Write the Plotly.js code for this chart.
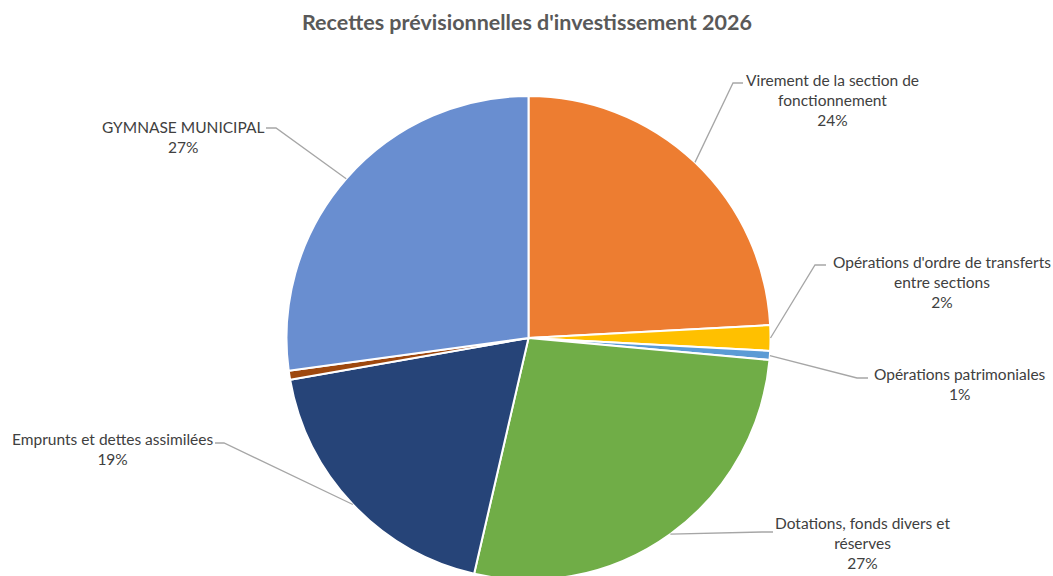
<!DOCTYPE html>
<html>
<head>
<meta charset="utf-8">
<script src="https://cdn.plot.ly/plotly-3.0.1.min.js"></script>
<style>
html,body{margin:0;padding:0;overflow:hidden;background:#fff;}
#chart{width:1053px;height:620px;}
</style>
</head>
<body>
<div id="chart"></div>
<script>
// ---- Data ----
const categories = [
  "Virement de la section de fonctionnement",
  "Opérations d'ordre de transferts entre sections",
  "Opérations patrimoniales",
  "Dotations, fonds divers et réserves",
  "Emprunts et dettes assimilées",
  "Autres",
  "GYMNASE MUNICIPAL"
];
const shownLabels = [
  "Virement de la section de<br>fonctionnement",
  "Opérations d'ordre de transferts<br>entre sections",
  "Opérations patrimoniales",
  "Dotations, fonds divers et<br>réserves",
  "Emprunts et dettes assimilées",
  "",
  "GYMNASE MUNICIPAL"
];
const values = [24.1, 1.7, 0.6, 27.1, 18.6, 0.6, 27.1];
const colors = ["#ED7D31", "#FFC000", "#5B9BD5", "#70AD47", "#264478", "#9E480E", "#698ED0"];

// ---- Layout geometry ----
const W = 1053, H = 620;
const M = {l: 4, r: 0, t: 96, b: 40};
const plotW = W - M.l - M.r, plotH = H - M.t - M.b;
const cx = M.l + plotW / 2, cy = M.t + plotH / 2, R = Math.min(plotW, plotH) / 2;
const px2x = p => (p - M.l) / plotW;
const py2y = p => (H - M.b - p) / plotH;

// label placement (pixel centre of text block) and leader line anchor/elbow
const labelPos = [
  {x: 832, y: 100, ax: 743, ay: 83, ex: 733},
  {x: 942, y: 282, ax: 826, ay: 265, ex: 815},
  {x: 960, y: 384, ax: 868, ay: 378, ex: 857},
  {x: 862, y: 543, ax: 773, ay: 532, ex: 762},
  {x: 112, y: 449, ax: 215, ay: 443, ex: 224},
  null,
  {x: 183, y: 137, ax: 266, ay: 128, ex: 276}
];

const total = values.reduce((a, b) => a + b, 0);
const annotations = [{
  text: "Recettes prévisionnelles d'investissement 2026",
  xref: "paper", yref: "paper",
  x: px2x(527), y: py2y(22),
  xanchor: "center", yanchor: "middle",
  showarrow: false,
  font: {family: "Lato, 'Open Sans', sans-serif", size: 21.5, color: "#595959", weight: "bold"}
}];
const shapes = [];
let cum = 0;
values.forEach((v, i) => {
  const mid = (cum + v / 2) / total * 2 * Math.PI;
  cum += v;
  const lp = labelPos[i];
  if (!lp) return;
  const pct = Math.round(v / total * 100) + "%";
  annotations.push({
    text: shownLabels[i] + "<br>" + pct,
    xref: "paper", yref: "paper",
    x: px2x(lp.x), y: py2y(lp.y),
    xanchor: "center", yanchor: "middle",
    showarrow: false, align: "center",
    font: {family: "Lato, 'Liberation Sans', sans-serif", size: 15.5, color: "#404040"}
  });
  const ex = cx + R * Math.sin(mid), ey = cy - R * Math.cos(mid);
  shapes.push({
    type: "path", xref: "paper", yref: "paper",
    path: `M ${px2x(lp.ax)} ${py2y(lp.ay)} L ${px2x(lp.ex)} ${py2y(lp.ay)} L ${px2x(ex)} ${py2y(ey)}`,
    line: {color: "#A6A6A6", width: 1.3}
  });
});

const trace = {
  type: "pie",
  labels: categories,
  values: values,
  sort: false,
  direction: "clockwise",
  rotation: 0,
  textinfo: "none",
  hoverinfo: "none",
  marker: {colors: colors, line: {color: "#FFFFFF", width: 2}},
  domain: {x: [0, 1], y: [0, 1]}
};

const layout = {
  width: W, height: H,
  margin: M,
  showlegend: false,
  paper_bgcolor: "#FFFFFF",
  annotations: annotations,
  shapes: shapes
};

Plotly.newPlot("chart", [trace], layout, {displayModeBar: false, staticPlot: true});
</script>
</body>
</html>
